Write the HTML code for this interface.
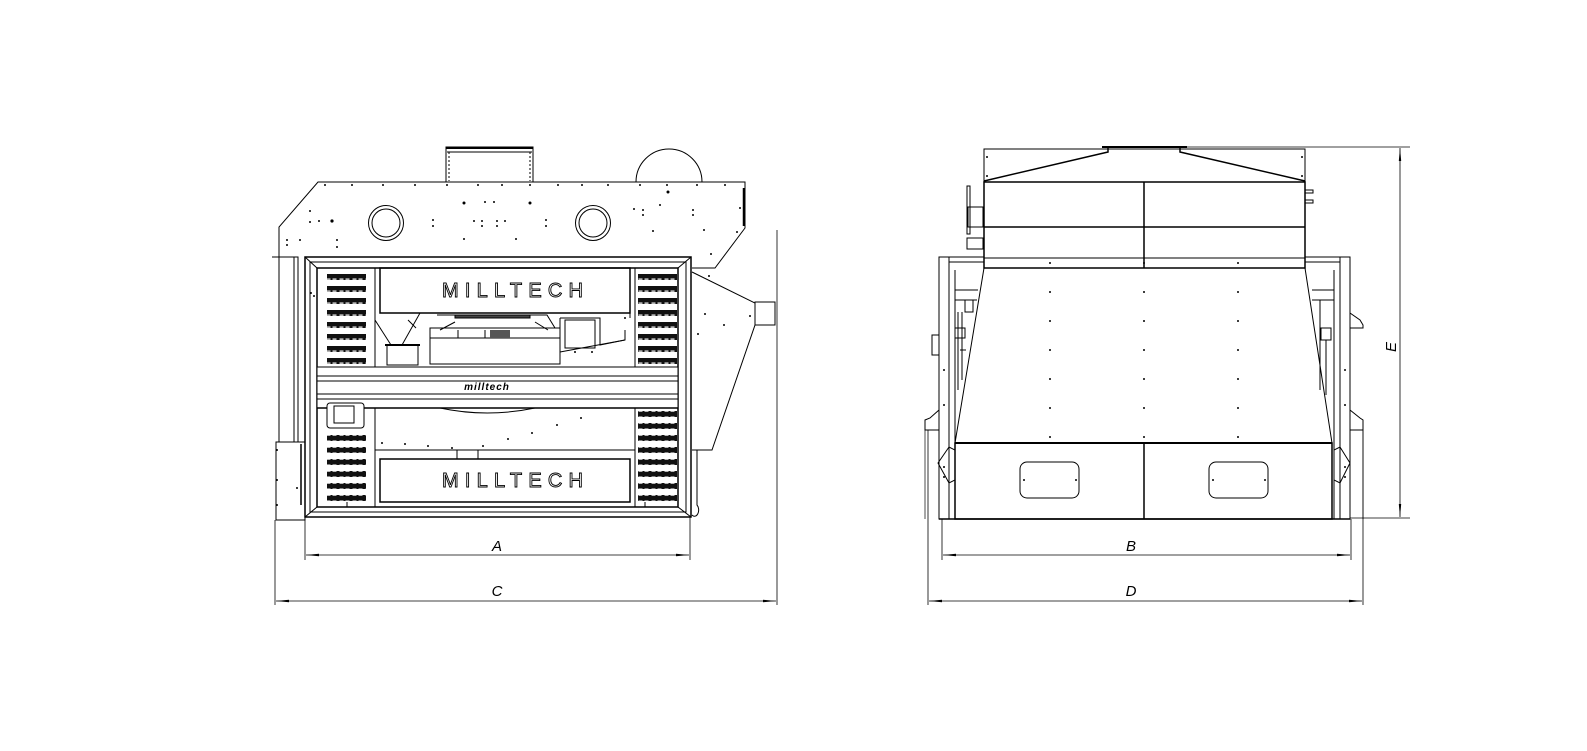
<!DOCTYPE html>
<html><head><meta charset="utf-8"><style>
html,body{margin:0;padding:0;background:#fff;}
svg{display:block;}
text{font-family:"Liberation Sans",sans-serif;}
</style></head><body>
<svg width="1587" height="751" viewBox="0 0 1587 751" xmlns="http://www.w3.org/2000/svg">
<defs>
<pattern id="vent" x="0" y="0" width="13" height="6" patternUnits="userSpaceOnUse">
<rect width="13" height="6" fill="#111"/>
<rect x="1.5" y="2.5" width="4" height="1.2" fill="#fff"/>
<rect x="7.5" y="2.5" width="4" height="1.2" fill="#fff"/>
</pattern>
<marker id="ar" markerWidth="14" markerHeight="6" refX="13" refY="3" orient="auto" markerUnits="userSpaceOnUse">
<path d="M0,1.8 L13,3 L0,4.2 Z" fill="#000"/>
</marker>
<marker id="al" markerWidth="14" markerHeight="6" refX="0" refY="3" orient="auto" markerUnits="userSpaceOnUse">
<path d="M13,1.8 L0,3 L13,4.2 Z" fill="#000"/>
</marker>
</defs>
<g fill="none" stroke="#000" stroke-width="1">
<rect x="446" y="147" width="87" height="35" fill="#fff"/>
<line x1="446" y1="148" x2="533" y2="148" stroke-width="2"/>
<line x1="447" y1="152" x2="532" y2="152"/>
<line x1="449" y1="152" x2="449" y2="181" stroke-dasharray="2,2"/>
<line x1="530" y1="152" x2="530" y2="181" stroke-dasharray="2,2"/>
<path d="M636,182 A33,33 0 0 1 702,182"/>
<path d="M279,257 L279,227 L318,182 L745,182 L745,228 L715,268 L692,268" fill="#fff"/>
<line x1="744" y1="188" x2="744" y2="226" stroke-width="2.5"/>
<circle cx="386" cy="223" r="17.5"/><circle cx="386" cy="223" r="14"/>
<circle cx="593" cy="223" r="17.5"/><circle cx="593" cy="223" r="14"/>
<rect x="279" y="257" width="19" height="185"/>
<line x1="294" y1="257" x2="294" y2="442"/>
<line x1="272" y1="257" x2="279" y2="257"/>
<rect x="276" y="442" width="29" height="78"/>
<line x1="301" y1="444" x2="301" y2="505" stroke-width="1.5"/>
<path d="M692,272 L755,303 L755,325 L712,450 L692,450"/>
<rect x="755" y="302" width="20" height="23"/>
<path d="M692,450 L697,450 L697,505 A4,6 0 0 1 692,515"/>
<rect x="305" y="257" width="386" height="260" stroke-width="1.5"/>
<rect x="310" y="262" width="376" height="250"/>
<rect x="317" y="268" width="361" height="239" stroke-width="1.5"/>
<line x1="305" y1="257" x2="317" y2="268"/><line x1="691" y1="257" x2="678" y2="268"/>
<line x1="305" y1="517" x2="317" y2="507"/><line x1="691" y1="517" x2="678" y2="507"/>
<rect x="317" y="268" width="58" height="99"/>
<rect x="635" y="268" width="43" height="99"/>
<rect x="317" y="408" width="58" height="99"/>
<rect x="635" y="408" width="43" height="99"/>
<rect x="380" y="268" width="250" height="45" stroke-width="1.5"/>
<line x1="630" y1="313" x2="630" y2="318"/>
<rect x="317" y="367" width="361" height="41" fill="#fff"/>
<line x1="317" y1="376" x2="678" y2="376"/>
<line x1="317" y1="381" x2="678" y2="381"/>
<line x1="317" y1="394" x2="678" y2="394"/>
<line x1="317" y1="399" x2="678" y2="399"/>
<line x1="317" y1="408" x2="678" y2="408" stroke-width="1.5"/>
<path d="M437,315 L547,315 L555,328 L430,328"/>
<rect x="430" y="328" width="130" height="36"/>
<line x1="430" y1="338" x2="560" y2="338"/>
<line x1="440" y1="330" x2="455" y2="322"/>
<line x1="535" y1="322" x2="548" y2="330"/>
<rect x="455" y="315" width="75" height="3" fill="#444"/>
<rect x="490" y="330" width="20" height="8" fill="#555" stroke="none"/>
<line x1="458" y1="330" x2="458" y2="338"/><line x1="485" y1="330" x2="485" y2="338"/>
<rect x="387" y="345" width="31" height="20"/>
<line x1="385" y1="345" x2="420" y2="345" stroke-width="2"/>
<line x1="375" y1="320" x2="391" y2="345"/>
<line x1="420" y1="313" x2="402" y2="345"/>
<line x1="408" y1="320" x2="416" y2="328"/>
<path d="M560,318 L600,318 L600,345 L625,340 L625,330"/>
<rect x="565" y="320" width="30" height="28"/>
<line x1="560" y1="318" x2="560" y2="352"/>
<line x1="560" y1="352" x2="625" y2="340"/>
<rect x="327" y="403" width="37" height="25" rx="3" fill="#fff"/>
<rect x="334" y="406" width="20" height="17"/>
<path d="M440,408 Q487,418 535,408"/>
<line x1="375" y1="450" x2="635" y2="450"/>
<rect x="457" y="450" width="21" height="9"/>
<rect x="380" y="459" width="250" height="43" stroke-width="1.5"/>
<line x1="347" y1="507" x2="347" y2="502"/><line x1="645" y1="507" x2="645" y2="502"/>

<rect x="984" y="149" width="321" height="33"/>
<line x1="1102" y1="147" x2="1187" y2="147" stroke-width="2"/>
<path d="M984,181 L1108,152 L1108,147" stroke-width="1.5"/>
<path d="M1305,181 L1180,152 L1180,147" stroke-width="1.5"/>
<line x1="1187" y1="147" x2="1410" y2="147" stroke-width="0.7"/>
<rect x="984" y="182" width="321" height="86" stroke-width="1.5"/>
<line x1="984" y1="227" x2="1305" y2="227" stroke-width="1.5"/>
<line x1="984" y1="258" x2="1305" y2="258"/>
<line x1="1144" y1="182" x2="1144" y2="268" stroke-width="1.5"/>
<path d="M984,268 L1305,268 L1332,443 L955,443 Z"/>
<rect x="955" y="443" width="377" height="76" stroke-width="1.5"/>
<line x1="955" y1="443" x2="1332" y2="443" stroke-width="2"/>
<line x1="1144" y1="443" x2="1144" y2="519" stroke-width="1.5"/>
<rect x="1020" y="462" width="59" height="36" rx="7"/>
<rect x="1209" y="462" width="59" height="36" rx="7"/>
<rect x="939" y="257" width="10" height="262"/>
<rect x="1340" y="257" width="10" height="262"/>
<line x1="939" y1="257" x2="984" y2="257"/><line x1="949" y1="262" x2="984" y2="262"/>
<line x1="1305" y1="257" x2="1350" y2="257"/><line x1="1305" y1="262" x2="1340" y2="262"/>
<line x1="955" y1="270" x2="955" y2="519"/><line x1="1334" y1="270" x2="1334" y2="519"/>
<line x1="939" y1="519" x2="1350" y2="519" stroke-width="1.5"/>
<rect x="967" y="186" width="3" height="48"/>
<rect x="968" y="207" width="15" height="20"/>
<rect x="967" y="238" width="16" height="11"/>
<line x1="955" y1="290" x2="978" y2="290"/><line x1="955" y1="300" x2="977" y2="300"/>
<rect x="965" y="300" width="8" height="12"/>
<rect x="955" y="328" width="10" height="10"/>
<line x1="958" y1="312" x2="958" y2="390"/><line x1="962" y1="312" x2="962" y2="380"/>
<rect x="932" y="335" width="7" height="20"/>
<line x1="960" y1="350" x2="966" y2="350"/>
<rect x="1305" y="190" width="8" height="3"/><rect x="1305" y="200" width="8" height="3"/>
<line x1="1312" y1="290" x2="1334" y2="290"/><line x1="1312" y1="300" x2="1334" y2="300"/>
<rect x="1321" y="328" width="10" height="12"/>
<line x1="1320" y1="300" x2="1320" y2="390"/><line x1="1326" y1="340" x2="1326" y2="395"/>
<path d="M939,410 L930,418 L925,420 L925,430 L939,430"/>
<path d="M1350,410 L1360,418 L1363,420 L1363,430 L1350,430"/>
<path d="M1350,313 L1360,320 L1363,325 L1363,328 L1350,328"/>
<line x1="925" y1="430" x2="925" y2="519" stroke-width="0.7"/>
<line x1="1363" y1="430" x2="1363" y2="519" stroke-width="0.7"/>
<path d="M949,447 L938,463 L949,483 L955,480 L955,450 Z"/>
<path d="M1340,447 L1350,463 L1340,483 L1334,480 L1334,450 Z"/>

<g stroke-width="0.8">
<line x1="275" y1="520" x2="275" y2="605"/>
<line x1="777" y1="230" x2="777" y2="605"/>
<line x1="305" y1="517" x2="305" y2="560"/>
<line x1="690" y1="517" x2="690" y2="560"/>
<line x1="306" y1="555" x2="689" y2="555" marker-start="url(#al)" marker-end="url(#ar)"/>
<line x1="276" y1="601" x2="776" y2="601" marker-start="url(#al)" marker-end="url(#ar)"/>
<line x1="928" y1="430" x2="928" y2="605"/>
<line x1="1363" y1="430" x2="1363" y2="605"/>
<line x1="942" y1="519" x2="942" y2="560"/>
<line x1="1351" y1="519" x2="1351" y2="560"/>
<line x1="943" y1="555" x2="1350" y2="555" marker-start="url(#al)" marker-end="url(#ar)"/>
<line x1="929" y1="601" x2="1362" y2="601" marker-start="url(#al)" marker-end="url(#ar)"/>
<line x1="1350" y1="518" x2="1410" y2="518"/>
<line x1="1400" y1="148" x2="1400" y2="517" marker-start="url(#al)" marker-end="url(#ar)"/>
</g>
</g>

<g fill="url(#vent)">
<rect x="327" y="274" width="39" height="6"/><rect x="327" y="286" width="39" height="6"/>
<rect x="327" y="298" width="39" height="6"/><rect x="327" y="310" width="39" height="6"/>
<rect x="327" y="322" width="39" height="6"/><rect x="327" y="334" width="39" height="6"/>
<rect x="327" y="346" width="39" height="6"/><rect x="327" y="358" width="39" height="6"/>
<rect x="638" y="274" width="39" height="6"/><rect x="638" y="286" width="39" height="6"/>
<rect x="638" y="298" width="39" height="6"/><rect x="638" y="310" width="39" height="6"/>
<rect x="638" y="322" width="39" height="6"/><rect x="638" y="334" width="39" height="6"/>
<rect x="638" y="346" width="39" height="6"/><rect x="638" y="358" width="39" height="6"/>
<rect x="327" y="435" width="39" height="6"/><rect x="327" y="447" width="39" height="6"/>
<rect x="327" y="459" width="39" height="6"/><rect x="327" y="471" width="39" height="6"/>
<rect x="327" y="483" width="39" height="6"/><rect x="327" y="495" width="39" height="6"/>
<rect x="638" y="411" width="39" height="6"/><rect x="638" y="423" width="39" height="6"/>
<rect x="638" y="435" width="39" height="6"/><rect x="638" y="447" width="39" height="6"/>
<rect x="638" y="459" width="39" height="6"/><rect x="638" y="471" width="39" height="6"/>
<rect x="638" y="483" width="39" height="6"/><rect x="638" y="495" width="39" height="6"/>
</g>

<g fill="#000">
<circle cx="325" cy="185" r="1"/><circle cx="352" cy="185" r="1"/><circle cx="383" cy="185" r="1"/><circle cx="415" cy="185" r="1"/>
<circle cx="447" cy="185" r="1"/><circle cx="478" cy="185" r="1"/><circle cx="502" cy="185" r="1"/><circle cx="530" cy="185" r="1"/>
<circle cx="558" cy="185" r="1"/><circle cx="582" cy="185" r="1"/><circle cx="608" cy="185" r="1"/><circle cx="640" cy="185" r="1"/>
<circle cx="667" cy="185" r="1"/><circle cx="697" cy="185" r="1"/><circle cx="725" cy="185" r="1"/>
<circle cx="310" cy="211" r="1"/><circle cx="310" cy="222" r="1"/><circle cx="332" cy="221" r="1.6"/><circle cx="319" cy="221" r="1"/>
<circle cx="287" cy="240" r="1"/><circle cx="300" cy="240" r="1"/><circle cx="287" cy="245" r="1"/><circle cx="337" cy="240" r="1"/><circle cx="337" cy="247" r="1"/>
<circle cx="433" cy="220" r="1"/><circle cx="433" cy="226" r="1"/><circle cx="474" cy="221" r="1"/><circle cx="482" cy="221" r="1"/><circle cx="497" cy="221" r="1"/><circle cx="505" cy="221" r="1"/>
<circle cx="482" cy="226" r="1"/><circle cx="497" cy="226" r="1"/><circle cx="546" cy="220" r="1"/><circle cx="546" cy="226" r="1"/>
<circle cx="485" cy="202" r="1"/><circle cx="494" cy="202" r="1"/><circle cx="464" cy="203" r="1.5"/><circle cx="530" cy="203" r="1.5"/>
<circle cx="464" cy="239" r="1"/><circle cx="516" cy="239" r="1"/><circle cx="668" cy="192" r="1.5"/><circle cx="660" cy="205" r="1"/>
<circle cx="634" cy="209" r="1"/><circle cx="643" cy="210" r="1"/><circle cx="643" cy="215" r="1"/><circle cx="693" cy="210" r="1"/><circle cx="693" cy="215" r="1"/>
<circle cx="653" cy="231" r="1"/><circle cx="704" cy="230" r="1"/><circle cx="740" cy="208" r="1"/><circle cx="737" cy="232" r="1"/><circle cx="711" cy="254" r="1"/>
<circle cx="709" cy="276" r="1"/><circle cx="705" cy="314" r="1"/><circle cx="724" cy="325" r="1"/><circle cx="698" cy="334" r="1"/><circle cx="750" cy="316" r="1"/>
<circle cx="382" cy="443" r="1"/><circle cx="405" cy="444" r="1"/><circle cx="428" cy="446" r="1"/><circle cx="452" cy="448" r="1"/><circle cx="483" cy="446" r="1"/>
<circle cx="508" cy="439" r="1"/><circle cx="532" cy="433" r="1"/><circle cx="557" cy="425" r="1"/><circle cx="581" cy="418" r="1"/>
<circle cx="575" cy="352" r="1"/><circle cx="592" cy="352" r="1"/><circle cx="625" cy="318" r="1"/><circle cx="311" cy="293" r="1"/><circle cx="314" cy="296" r="1"/>
<circle cx="277" cy="450" r="1"/><circle cx="277" cy="480" r="1"/><circle cx="277" cy="505" r="1"/><circle cx="297" cy="488" r="1"/>
<circle cx="1050" cy="263" r="1"/><circle cx="1144" cy="263" r="1"/><circle cx="1238" cy="263" r="1"/>
<circle cx="1050" cy="292" r="1"/><circle cx="1144" cy="292" r="1"/><circle cx="1238" cy="292" r="1"/>
<circle cx="1050" cy="321" r="1"/><circle cx="1144" cy="321" r="1"/><circle cx="1238" cy="321" r="1"/>
<circle cx="1050" cy="350" r="1"/><circle cx="1144" cy="350" r="1"/><circle cx="1238" cy="350" r="1"/>
<circle cx="1050" cy="379" r="1"/><circle cx="1144" cy="379" r="1"/><circle cx="1238" cy="379" r="1"/>
<circle cx="1050" cy="408" r="1"/><circle cx="1144" cy="408" r="1"/><circle cx="1238" cy="408" r="1"/>
<circle cx="1050" cy="437" r="1"/><circle cx="1144" cy="437" r="1"/><circle cx="1238" cy="437" r="1"/>
<circle cx="987" cy="157" r="1"/><circle cx="1302" cy="157" r="1"/><circle cx="987" cy="176" r="1"/><circle cx="1302" cy="176" r="1"/>
<circle cx="1024" cy="480" r="1"/><circle cx="1076" cy="480" r="1"/><circle cx="1213" cy="480" r="1"/><circle cx="1265" cy="480" r="1"/>
<circle cx="944" cy="370" r="1"/><circle cx="944" cy="405" r="1"/><circle cx="1345" cy="370" r="1"/><circle cx="1345" cy="405" r="1"/>
<circle cx="944" cy="467" r="1"/><circle cx="944" cy="477" r="1"/><circle cx="1345" cy="467" r="1"/><circle cx="1345" cy="477" r="1"/>
</g>

<text x="442" y="297" font-size="20" fill="#fff" stroke="#000" stroke-width="0.9" textLength="141" lengthAdjust="spacing">MILLTECH</text>
<text x="442" y="487" font-size="20" fill="#fff" stroke="#000" stroke-width="0.9" textLength="141" lengthAdjust="spacing">MILLTECH</text>
<text x="487" y="390" font-size="10" font-weight="bold" font-style="italic" text-anchor="middle" letter-spacing="1">milltech</text>
<text x="497" y="551" font-size="15" font-style="italic" text-anchor="middle">A</text>
<text x="497" y="596" font-size="15" font-style="italic" text-anchor="middle">C</text>
<text x="1131" y="551" font-size="15" font-style="italic" text-anchor="middle">B</text>
<text x="1131" y="596" font-size="15" font-style="italic" text-anchor="middle">D</text>
<text x="0" y="0" font-size="15" font-style="italic" text-anchor="middle" transform="translate(1396,347) rotate(-90)">E</text>
</svg>
</body></html>
